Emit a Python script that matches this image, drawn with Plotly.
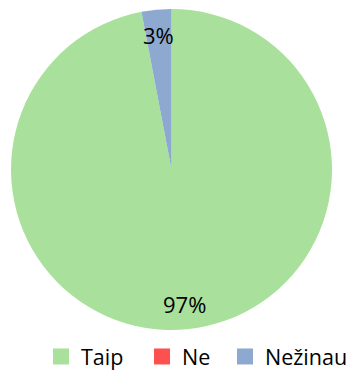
import math
import plotly.graph_objects as go

labels = ["Taip", "Ne", "Nežinau"]
values = [97, 0, 3]
colors = ["#A9E09B", "#FF5050", "#8EA9D0"]

W, H = 350, 371
# pie geometry in pixels
CX, CY, R = 171.5, 169.5, 160.5
LABEL_R = 0.84
FONT = "Open Sans"
# left edge (px) of each legend entry
LEGEND_LEFT = [41, 142, 225]
LEGEND_Y = 356.5

fig = go.Figure()
fig.add_trace(
    go.Pie(
        labels=labels,
        values=values,
        marker=dict(colors=colors, line=dict(width=0)),
        sort=False,
        direction="clockwise",
        rotation=0,
        textinfo="none",
        domain=dict(x=[(CX - R) / W, (CX + R) / W], y=[1 - (CY + R) / H, 1 - (CY - R) / H]),
        hoverinfo="label+percent",
        showlegend=False,
    )
)

# legend entries as square markers, one legend box per entry
legend_layout = {}
for i, (lab, col) in enumerate(zip(labels, colors)):
    key = "legend" if i == 0 else f"legend{i + 1}"
    fig.add_trace(
        go.Scatter(
            x=[None], y=[None], mode="markers", name=lab,
            marker=dict(symbol="square", size=16, color=col),
            showlegend=True, legend=key,
        )
    )
    legend_layout[key] = dict(
        orientation="h",
        x=LEGEND_LEFT[i] / W,
        xanchor="left",
        y=1 - LEGEND_Y / H,
        yanchor="middle",
        font=dict(family=FONT, size=21.5, color="#000000"),
        bgcolor="rgba(0,0,0,0)",
        borderwidth=0,
    )

# percentage labels placed along each slice bisector
total = sum(values)
cum = 0.0
for lab, v in zip(labels, values):
    if v > 0:
        mid = (cum + v / 2) / total * 2 * math.pi
        px = CX + LABEL_R * R * math.sin(mid)
        py = CY - LABEL_R * R * math.cos(mid)
        fig.add_annotation(
            x=px / W, y=1 - py / H, xref="paper", yref="paper",
            text=f"{round(v / total * 100)}%", showarrow=False,
            font=dict(family=FONT, size=22, color="#000000"),
            xanchor="center", yanchor="middle",
        )
    cum += v

fig.update_layout(
    width=W,
    height=H,
    margin=dict(l=0, r=0, t=0, b=0, autoexpand=False),
    paper_bgcolor="white",
    plot_bgcolor="white",
    font=dict(family=FONT, size=22, color="#000000"),
    xaxis=dict(visible=False),
    yaxis=dict(visible=False),
    **legend_layout,
)

fig.write_html("out.html")
